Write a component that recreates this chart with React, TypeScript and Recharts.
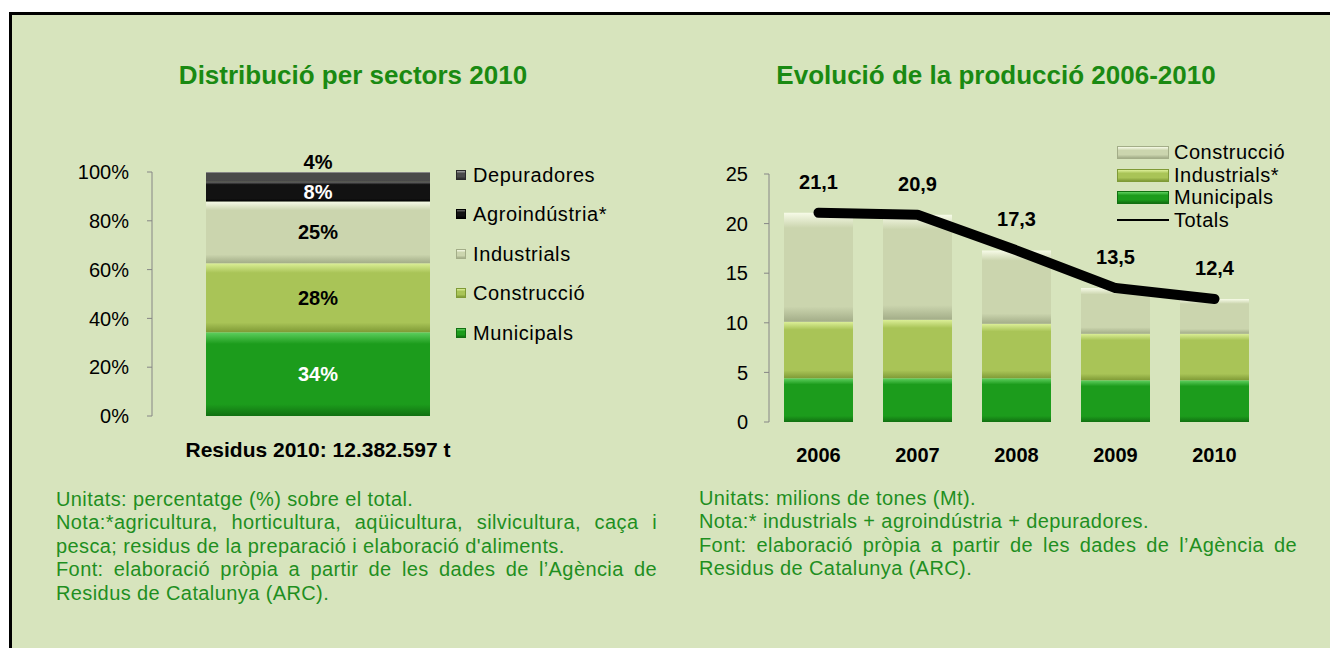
import React from "react";
import {
  ComposedChart,
  BarChart,
  Bar,
  Line,
  XAxis,
  YAxis,
  LabelList,
} from "recharts";

const font = "'Liberation Sans', Arial, sans-serif";
const noteGreen = "#1f8f1f";
const titleGreen = "#1a8a12";
const axisGrey = "#868686";

// --- left chart: share by sector 2010 ---
const sectorKeys = ["municipals", "construccio", "industrials", "agro", "depuradores"];
const sectorNames = ["Municipals", "Construcció", "Industrials", "Agroindústria*", "Depuradores"];
const shares2010 = [34, 28, 25, 8, 4];
const shareCategory = "Residus 2010: 12.382.597 t";
const pctTicks = [0, 0.2, 0.4, 0.6, 0.8, 1];

// --- right chart: production 2006-2010 (Mt) ---
const years = ["2006", "2007", "2008", "2009", "2010"];
const municipalsMt = [4.4, 4.4, 4.4, 4.2, 4.2];
const industrialsMt = [5.7, 5.9, 5.5, 4.7, 4.7];
const construccioMt = [11.0, 10.6, 7.4, 4.6, 3.5];
const totalsMt = [21.1, 20.9, 17.3, 13.5, 12.4];
const mtTicks = [0, 5, 10, 15, 20, 25];

const shareData = [
  sectorKeys.reduce(
    (row, k, i) => ({ ...row, [k]: shares2010[i] }),
    { name: shareCategory, idx: 0.5 } as Record<string, any>
  ),
];

const evoData = years.map((y, i) => ({
  year: y,
  idx: i + 0.5,
  municipals: municipalsMt[i],
  industrials: industrialsMt[i],
  construccio: construccioMt[i],
  total: totalsMt[i],
}));

// gradient fills (light top edge, darker bottom edge like the Excel bevel)
const fills: Record<string, [string, string, string]> = {
  green: ["#5fcf5f", "#1c9c1c", "#117011"],
  olive: ["#dcef98", "#a9c457", "#7f9a36"],
  pale: ["#f7fbe8", "#cbd5ae", "#a3ad88"],
  black: ["#6a6a6a", "#121212", "#000000"],
  grey: ["#a8a8a8", "#4a4a4a", "#2a2a2a"],
};

function Gradients() {
  return (
    <defs>
      {Object.entries(fills).map(([id, [top, mid, bot]]) => (
        <linearGradient key={id} id={`g-${id}`} x1="0" y1="0" x2="0" y2="1">
          <stop offset="0%" stopColor={top} />
          <stop offset="14%" stopColor={mid} />
          <stop offset="86%" stopColor={mid} />
          <stop offset="100%" stopColor={bot} />
        </linearGradient>
      ))}
    </defs>
  );
}

const sectorFill = ["green", "olive", "pale", "black", "grey"];
const labelFill = ["#fff", "#000", "#000", "#fff", "#000"];

const tickStyle = { fontSize: 20, fontFamily: font, fill: "#000" };
const boldTick = { fontSize: 20, fontFamily: font, fill: "#000", fontWeight: 700 };
const labelStyle = { fontSize: 20, fontWeight: 700, fontFamily: font };

function Swatch({ fill, w, h }: { fill: string; w: number; h: number }) {
  const [top, mid, bot] = fills[fill];
  return (
    <span
      style={{
        display: "inline-block",
        width: w,
        height: h,
        background: `linear-gradient(${top} 0%, ${mid} 30%, ${mid} 70%, ${bot} 100%)`,
        border: `1px solid ${bot}`,
        boxSizing: "border-box",
      }}
    />
  );
}

function NoteLine({ text, justify }: { text: string; justify?: boolean }) {
  return (
    <div
      style={{
        textAlign: justify ? "justify" : "left",
        textAlignLast: justify ? "justify" : "left",
        whiteSpace: "nowrap",
        height: 23.4,
      } as React.CSSProperties}
    >
      {text}
    </div>
  );
}

export default function App() {
  const fmt = (v: any) => String(Number(v).toFixed(1)).replace(".", ",");
  return (
    <div
      style={{
        position: "absolute",
        left: 0,
        top: 0,
        width: 1330,
        height: 648,
        background: "#fff",
        fontFamily: font,
        overflow: "hidden",
      }}
    >
      {/* panel */}
      <div
        style={{
          position: "absolute",
          left: 9,
          top: 12,
          right: 0,
          bottom: 0,
          background: "#d7e4bd",
          borderLeft: "3px solid #000",
          borderTop: "3px solid #000",
        }}
      />

      {/* titles */}
      <div style={{ position: "absolute", left: 103, width: 500, top: 60, textAlign: "center", color: titleGreen, fontWeight: 700, fontSize: 26, lineHeight: "30px" }}>
        Distribució per sectors 2010
      </div>
      <div style={{ position: "absolute", left: 746, width: 500, top: 60, textAlign: "center", color: titleGreen, fontWeight: 700, fontSize: 26, lineHeight: "30px" }}>
        Evolució de la producció 2006-2010
      </div>

      {/* left chart */}
      <div style={{ position: "absolute", left: 0, top: 0 }}>
        <BarChart
          width={520}
          height={476}
          data={shareData}
          stackOffset="expand"
          barSize={224}
          margin={{ top: 172, right: 36, left: 92, bottom: 14 }}
        >
          <Gradients />
          <XAxis
            xAxisId="edges"
            type="number"
            dataKey="idx"
            domain={[0, 1]}
            ticks={[0, 1]}
            height={0}
            tickFormatter={() => ""}
            stroke={axisGrey}
            tickSize={6}
            allowDataOverflow
          />
          <XAxis
            dataKey="name"
            tickLine={false}
            axisLine={false}
            height={46}
            tick={{ ...boldTick, fontSize: 21 }}
            tickMargin={20}
          />
          <YAxis
            width={60}
            domain={[0, 1]}
            ticks={pctTicks}
            tickFormatter={(v: number) => `${Math.round(v * 100)}%`}
            tick={tickStyle}
            stroke={axisGrey}
            tickSize={5}
            tickMargin={18}
          />
          {sectorKeys.map((k, i) => (
            <Bar
              key={k}
              dataKey={k}
              name={sectorNames[i]}
              stackId="s"
              fill={`url(#g-${sectorFill[i]})`}
              isAnimationActive={false}
            >
              <LabelList
                dataKey={k}
                position={k === "depuradores" ? "top" : "center"}
                offset={k === "depuradores" ? 3 : 5}
                formatter={(v: any) => `${v}%`}
                fill={labelFill[i]}
                style={labelStyle}
              />
            </Bar>
          ))}
        </BarChart>
      </div>

      {/* left legend */}
      <div style={{ position: "absolute", left: 456, top: 155, fontSize: 20, color: "#000" }}>
        {[4, 3, 2, 1, 0].map((i) => (
          <div key={i} style={{ height: 39.5, display: "flex", alignItems: "center", gap: 7 }}>
            <Swatch fill={sectorFill[i]} w={10} h={10} />
            <span style={{ letterSpacing: 0.6, lineHeight: "22px" }}>{sectorNames[i]}</span>
          </div>
        ))}
      </div>

      {/* right chart */}
      <div style={{ position: "absolute", left: 640, top: 0 }}>
        <ComposedChart
          width={660}
          height={482}
          data={evoData}
          barSize={69}
          margin={{ top: 174, right: 36, left: 69, bottom: 14 }}
        >
          <Gradients />
          <XAxis
            xAxisId="edges"
            type="number"
            dataKey="idx"
            domain={[0, 5]}
            ticks={[0, 1, 2, 3, 4, 5]}
            height={0}
            tickFormatter={() => ""}
            stroke={axisGrey}
            tickSize={6}
            allowDataOverflow
          />
          <XAxis
            dataKey="year"
            tickLine={false}
            axisLine={false}
            height={46}
            tick={boldTick}
            tickMargin={20}
          />
          <YAxis
            width={60}
            domain={[0, 25]}
            ticks={mtTicks}
            tick={tickStyle}
            stroke={axisGrey}
            tickSize={5}
            tickMargin={16}
          />
          <Bar dataKey="municipals" stackId="e" fill="url(#g-green)" isAnimationActive={false} />
          <Bar dataKey="industrials" stackId="e" fill="url(#g-olive)" isAnimationActive={false} />
          <Bar dataKey="construccio" stackId="e" fill="url(#g-pale)" isAnimationActive={false} />
          <Line
            dataKey="total"
            stroke="#000"
            strokeWidth={10}
            strokeLinecap="round"
            strokeLinejoin="round"
            dot={false}
            isAnimationActive={false}
          >
            <LabelList
              dataKey="total"
              position="top"
              offset={24}
              formatter={fmt}
              fill="#000"
              style={labelStyle}
            />
          </Line>
        </ComposedChart>
      </div>

      {/* right legend */}
      <div style={{ position: "absolute", left: 1117, top: 141, fontSize: 20, color: "#000" }}>
        {[
          { name: "Construcció", fill: "pale" },
          { name: "Industrials*", fill: "olive" },
          { name: "Municipals", fill: "green" },
        ].map((s) => (
          <div key={s.name} style={{ height: 22.7, display: "flex", alignItems: "center", gap: 5 }}>
            <Swatch fill={s.fill} w={52} h={13} />
            <span style={{ letterSpacing: 0.5 }}>{s.name}</span>
          </div>
        ))}
        <div style={{ height: 22.7, display: "flex", alignItems: "center", gap: 5 }}>
          <span style={{ display: "inline-block", width: 52, height: 2, background: "#000" }} />
          <span style={{ letterSpacing: 0.5 }}>Totals</span>
        </div>
      </div>

      {/* notes */}
      <div style={{ position: "absolute", left: 56, top: 488, width: 601, fontSize: 20, letterSpacing: 0.4, color: noteGreen, lineHeight: "23.4px" }}>
        <NoteLine text="Unitats: percentatge (%) sobre el total." />
        <NoteLine text="Nota:*agricultura, horticultura, aqüicultura, silvicultura, caça i" justify />
        <NoteLine text="pesca; residus de la preparació i elaboració d'aliments." />
        <NoteLine text="Font: elaboració pròpia a partir de les dades de l’Agència de" justify />
        <NoteLine text="Residus de Catalunya (ARC)." />
      </div>
      <div style={{ position: "absolute", left: 699, top: 487, width: 598, fontSize: 20, letterSpacing: 0.4, color: noteGreen, lineHeight: "23.4px" }}>
        <NoteLine text="Unitats: milions de tones (Mt)." />
        <NoteLine text="Nota:* industrials + agroindústria + depuradores." />
        <NoteLine text="Font: elaboració pròpia a partir de les dades de l’Agència de" justify />
        <NoteLine text="Residus de Catalunya (ARC)." />
      </div>
    </div>
  );
}
